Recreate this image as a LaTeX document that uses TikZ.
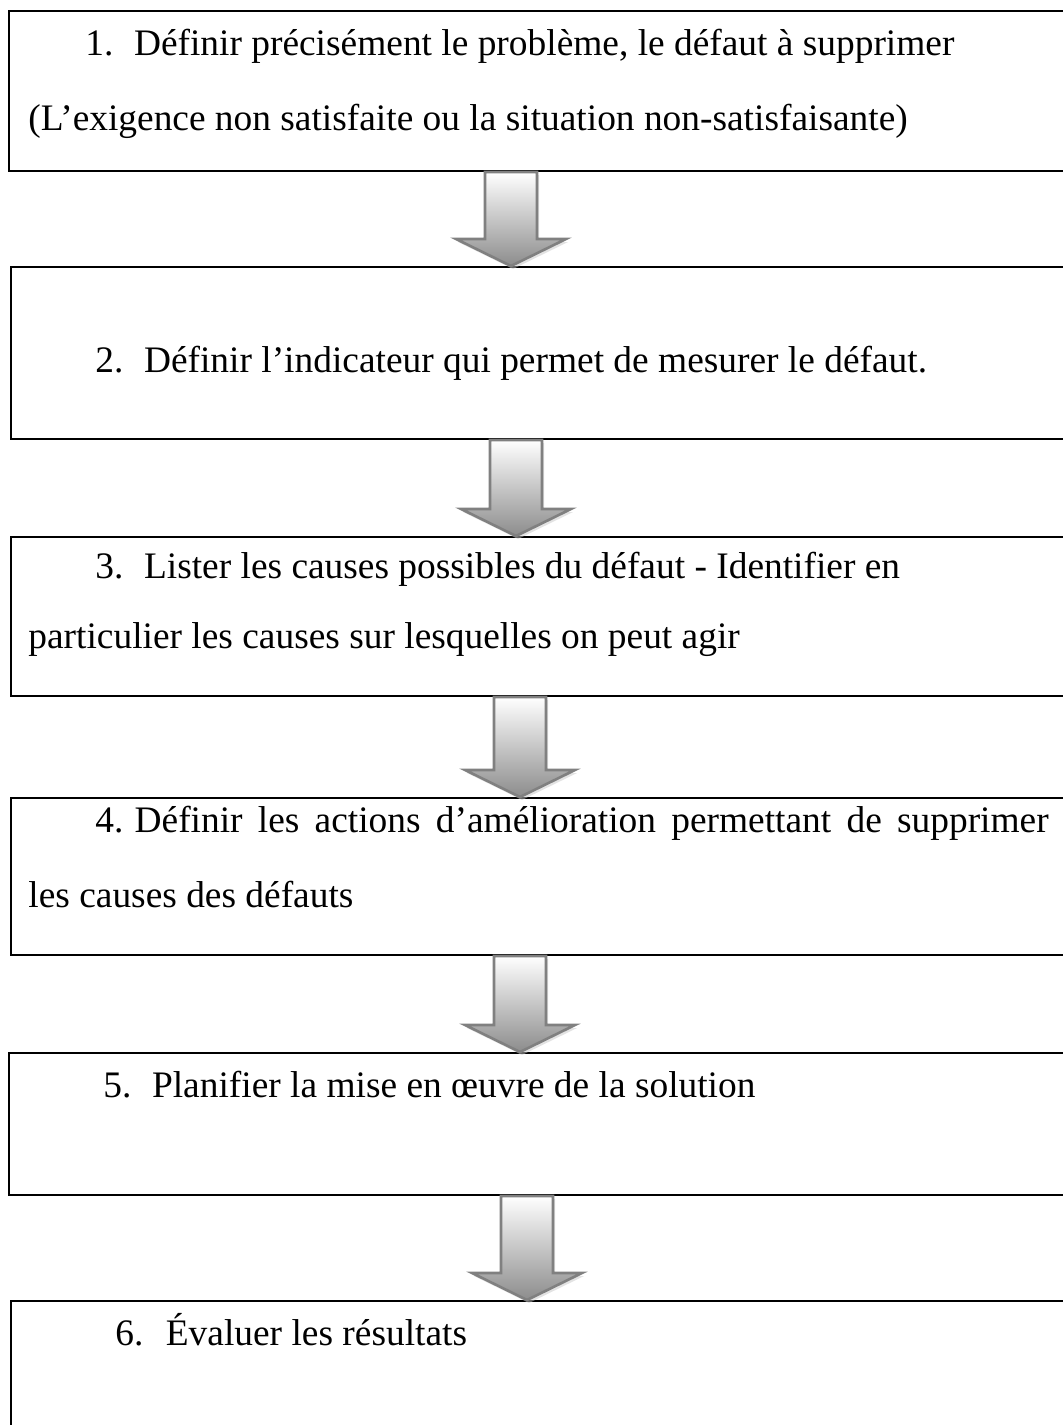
\documentclass[tikz,border=0pt]{standalone}
\usepackage{fontspec}
\setmainfont{Liberation Serif}
\usetikzlibrary{calc,shadows}

\begin{document}
\begin{tikzpicture}[x=0.5pt,y=-0.5pt,font=\fontsize{18.7}{21}\selectfont]
		\tikzstyle{stepbox}=[draw=black,line width=1pt,anchor=north west,minimum width=540pt,inner sep=0pt]
		\tikzstyle{steptext}=[anchor=base west,inner sep=0pt]
		\tikzstyle{flow arrow}=[draw=black!50,line width=1.3pt,top color=white,bottom color=black!45,
			drop shadow={shadow xshift=1pt,shadow yshift=-1.5pt,fill=black!22}]
		
		\useasboundingbox (0,0) rectangle (1063,1425);
		\clip (0,0) rectangle (1063,1425);
		
		% Draw the step boxes
		\node[stepbox,minimum height=80pt] (b1) at (8,10) {};
		\node[stepbox,minimum height=86pt] (b2) at (10,266) {};
		\node[stepbox,minimum height=79.5pt] (b3) at (10,536) {};
		\node[stepbox,minimum height=78.5pt] (b4) at (10,797) {};
		\node[stepbox,minimum height=71pt] (b5) at (8,1052) {};
		\node[stepbox,minimum height=100pt] (b6) at (10,1300) {};
		
		% Write the steps
		\node[steptext] (t1a) at (85,55) {1.\hspace{0.55em}Définir précisément le problème, le défaut à supprimer};
		\node[steptext] (t1b) at (28,130) {(L’exigence non satisfaite ou la situation non-satisfaisante)};
		\node[steptext] (t2) at (95,372) {2.\hspace{0.55em}Définir l’indicateur qui permet de mesurer le défaut.};
		\node[steptext] (t3a) at (95,578) {3.\hspace{0.55em}Lister les causes possibles du défaut - Identifier en};
		\node[steptext] (t3b) at (28,648) {particulier les causes sur lesquelles on peut agir};
		\node[steptext] (t4a) at (95,832) {4.\hspace{0.3em}\makebox[457pt][s]{Définir les actions d’amélioration permettant de supprimer}};
		\node[steptext] (t4b) at (28,907) {les causes des défauts};
		\node[steptext] (t5) at (103,1097) {5.\hspace{0.55em}Planifier la mise en œuvre de la solution};
		\node[steptext] (t6) at (115,1345) {6.\hspace{0.6em}Évaluer les résultats};
		
		% Connect every box with the next one by a block arrow
		\foreach \ax/\from/\to in {511/b1/b2,516/b2/b3,520/b3/b4,520/b4/b5,527/b5/b6}
		\path[flow arrow] let \p1=(\from.south -| \ax,0), \p2=(\to.north -| \ax,0) in
			(\x1-13pt,\y1) -- (\x1-13pt,\y2+13.5pt) -- (\x1-27.5pt,\y2+13.5pt) -- (\x2,\y2)
			-- (\x1+27.5pt,\y2+13.5pt) -- (\x1+13pt,\y2+13.5pt) -- (\x1+13pt,\y1) -- cycle;
	\end{tikzpicture}
\end{document}
